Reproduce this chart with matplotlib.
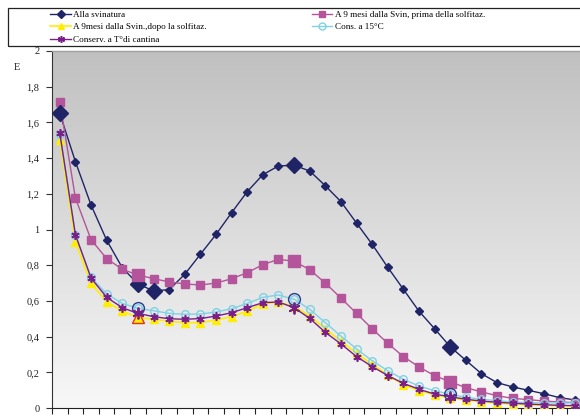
import numpy as np
import matplotlib
matplotlib.use("Agg")
import matplotlib.pyplot as plt
from matplotlib.colors import LinearSegmentedColormap
from matplotlib.lines import Line2D
from matplotlib.patches import Rectangle

# Absorbance spectra (E) sampled at 34 equally spaced wavelengths
n_points = 34
y_ticks = [0, 0.2, 0.4, 0.6, 0.8, 1.0, 1.2, 1.4, 1.6, 1.8, 2.0]
y_tick_labels = ["0", "0,2", "0,4", "0,6", "0,8", "1", "1,2", "1,4", "1,6", "1,8", "2"]

alla_svinatura = [1.65, 1.38, 1.137, 0.94, 0.786, 0.695, 0.656, 0.663, 0.749, 0.861,
                  0.972, 1.094, 1.212, 1.307, 1.356, 1.36, 1.328, 1.245, 1.156, 1.036,
                  0.917, 0.788, 0.665, 0.542, 0.444, 0.343, 0.267, 0.192, 0.142, 0.118,
                  0.099, 0.080, 0.058, 0.045]
prima_solfitaz = [1.714, 1.176, 0.943, 0.837, 0.777, 0.745, 0.725, 0.706, 0.695, 0.689,
                  0.700, 0.724, 0.758, 0.803, 0.833, 0.822, 0.775, 0.700, 0.616, 0.530,
                  0.444, 0.362, 0.288, 0.230, 0.181, 0.147, 0.114, 0.090, 0.069, 0.054,
                  0.047, 0.039, 0.034, 0.030]
dopo_solfitaz = [1.501, 0.930, 0.698, 0.596, 0.542, 0.508, 0.497, 0.486, 0.478, 0.478,
                 0.493, 0.512, 0.542, 0.583, 0.594, 0.568, 0.515, 0.444, 0.375, 0.306,
                 0.245, 0.185, 0.130, 0.098, 0.073, 0.058, 0.044, 0.035, 0.028, 0.022,
                 0.018, 0.015, 0.012, 0.010]
cons_15 = [1.533, 0.967, 0.732, 0.639, 0.586, 0.558, 0.545, 0.530, 0.525, 0.526,
           0.538, 0.556, 0.586, 0.620, 0.633, 0.609, 0.553, 0.478, 0.403, 0.331,
           0.265, 0.209, 0.161, 0.123, 0.097, 0.077, 0.060, 0.049, 0.041, 0.034,
           0.030, 0.028, 0.028, 0.028]
cantina = [1.540, 0.971, 0.728, 0.620, 0.562, 0.530, 0.512, 0.500, 0.497, 0.501,
           0.515, 0.534, 0.562, 0.590, 0.594, 0.562, 0.502, 0.424, 0.359, 0.288,
           0.232, 0.182, 0.138, 0.105, 0.078, 0.063, 0.049, 0.039, 0.032, 0.027,
           0.022, 0.018, 0.015, 0.013]

labels = ["Alla svinatura",
          "A 9 mesi dalla Svin, prima della solfitaz.",
          "A 9mesi dalla Svin.,dopo la solfitaz.",
          "Cons. a 15°C",
          "Conserv. a T°di cantina"]

navy = "#1f2466"
pink = "#b4549a"
yellow = "#ffee00"
cyan = "#7fd2e4"
purple = "#7a1f88"

serif = ["Liberation Serif", "DejaVu Serif"]
plt.rcParams["font.family"] = serif

W, H = 580, 416
fig = plt.figure(figsize=(W / 100, H / 100), dpi=100)
fig.patch.set_facecolor("white")
ax = fig.add_axes([52 / W, 8 / H, 531 / W, 357 / H])

x = np.arange(n_points)

# vertical grey-to-white gradient in the plot area
cmap = LinearSegmentedColormap.from_list("bg", ["#f8f8f8", "#dcdcdc", "#c0c0c0"])
grad = np.linspace(0, 1, 256).reshape(-1, 1)
ax.imshow(grad, cmap=cmap, extent=[0, 1, 0, 1], transform=ax.transAxes,
          aspect="auto", origin="lower", zorder=0)

ast = (6, 2, 0)
ax.plot(x, alla_svinatura, color=navy, lw=1.0, marker="D", ms=4.2, mfc=navy, mec=navy, zorder=3)
ax.plot(x, prima_solfitaz, color=pink, lw=1.0, marker="s", ms=5.8, mfc=pink, mec=pink, zorder=3)
ax.plot(x, dopo_solfitaz, color=yellow, lw=1.2, marker="^", ms=6, mfc=yellow, mec=yellow, zorder=3)
ax.plot(x, cons_15, color=cyan, lw=1.0, marker="o", ms=5.5, mfc="none", mec=cyan, mew=1.0, zorder=3)
ax.plot(x, cantina, color=purple, lw=1.0, marker=ast, ms=6, mec=purple, mew=1.2, zorder=4)

# highlighted samples drawn with enlarged markers
hl_navy = [0, 5, 6, 15, 25]
hl = [5, 15, 25]
ax.plot([x[i] for i in hl_navy], [alla_svinatura[i] for i in hl_navy], ls="none",
        marker="D", ms=8.5, mfc=navy, mec=navy, zorder=5)
ax.plot([x[i] for i in hl], [prima_solfitaz[i] for i in hl], ls="none",
        marker="s", ms=8.5, mfc=pink, mec=pink, zorder=5)
ax.plot([x[5]], [dopo_solfitaz[5]], ls="none", marker="^", ms=8,
        mfc=yellow, mec="#e83020", mew=1.0, zorder=5)
ax.plot([x[i] for i in hl], [cons_15[i] for i in hl], ls="none",
        marker="o", ms=8.5, mfc="none", mec="#2a3c8c", mew=1.0, zorder=5)
ax.plot([x[i] for i in hl], [cantina[i] for i in hl], ls="none",
        marker=ast, ms=8.5, mec=purple, mew=1.3, zorder=6)

ax.set_xlim(-0.5, n_points - 0.5)
ax.set_ylim(0, 2)
ax.set_xticks(np.arange(n_points + 1) - 0.5)
ax.set_xticklabels([])
ax.set_yticks(y_ticks)
ax.set_yticklabels(y_tick_labels)
ax.tick_params(axis="y", direction="out", length=4, width=0.8, color="#333333",
               labelsize=7.5, labelcolor="#222222", pad=5)
ax.tick_params(axis="x", direction="out", length=4, width=0.8, color="#222222")
ax.spines["right"].set_visible(False)
ax.spines["top"].set_color("#a0a0a0")
ax.spines["top"].set_linewidth(1.0)
ax.spines["left"].set_color("#333333")
ax.spines["bottom"].set_color("#222222")

fig.text(17 / W, 1 - 67 / H, "E", fontsize=7.5, color="#222222", va="center", ha="center")

# legend with its own frame
fig.add_artist(Rectangle((8 / W, 1 - 46 / H), 580 / W, 38 / H, transform=fig.transFigure,
                         facecolor="white", edgecolor="#222222", lw=0.9, zorder=1))
handles = [
    Line2D([], [], color=navy, marker="D", ms=4, lw=1.0),
    Line2D([], [], color=yellow, marker="^", ms=5, lw=1.2),
    Line2D([], [], color=purple, marker=ast, ms=5, mew=1.1, lw=1.0),
    Line2D([], [], color=pink, marker="s", ms=5, lw=1.0),
    Line2D([], [], color=cyan, marker="o", ms=5, mfc="none", lw=1.0),
]
hl_labels = [labels[0], labels[2], labels[4], labels[1], labels[3]]
leg = fig.legend(handles, hl_labels, loc="upper left", bbox_to_anchor=(44 / W, 1 - 4 / H),
                 ncol=2, frameon=False, fontsize=6.6, handlelength=2.2, handletextpad=0.3,
                 columnspacing=11.5, labelspacing=0.45, borderpad=0.2)

fig.savefig("out.png", dpi=100)
